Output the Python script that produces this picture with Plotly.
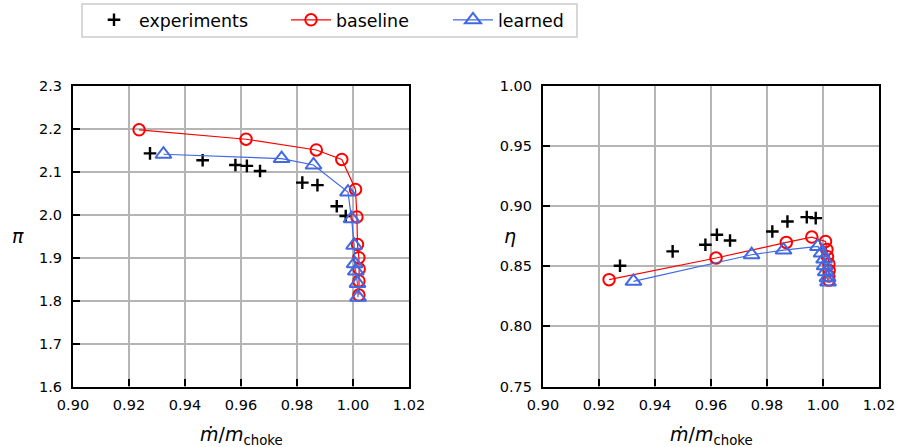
import plotly.graph_objects as go

# Operating points: corrected mass flow vs. pressure ratio and efficiency
x_exp = [0.9275, 0.9463, 0.9580, 0.9621, 0.9668, 0.9819, 0.9873, 0.9942, 0.9974]
pi_exp = [2.143, 2.127, 2.116, 2.114, 2.102, 2.075, 2.069, 2.020, 1.997]
eta_exp = [0.8505, 0.8624, 0.8679, 0.8762, 0.8715, 0.8790, 0.8873, 0.8909, 0.8901]

x_base = [0.9236, 0.9618, 0.9869, 0.9960, 1.0009, 1.0014, 1.0016, 1.0021, 1.0022, 1.0021, 1.0021]
pi_base = [2.198, 2.176, 2.151, 2.129, 2.059, 1.995, 1.931, 1.900, 1.874, 1.846, 1.813]
eta_base = [0.8389, 0.8569, 0.8699, 0.8743, 0.8707, 0.8640, 0.8580, 0.8520, 0.8465, 0.8420, 0.8385]

x_learn = [0.9323, 0.9745, 0.9859, 0.9982, 0.9995, 1.0004, 1.0006, 1.0010, 1.0016, 1.0018]
pi_learn = [2.141, 2.131, 2.116, 2.053, 1.991, 1.929, 1.886, 1.869, 1.840, 1.808]
eta_learn = [0.8375, 0.8596, 0.8635, 0.8665, 0.8610, 0.8560, 0.8505, 0.8455, 0.8405, 0.8370]

x_ticks = [0.90, 0.92, 0.94, 0.96, 0.98, 1.00, 1.02]
pi_ticks = [1.6, 1.7, 1.8, 1.9, 2.0, 2.1, 2.2, 2.3]
eta_ticks = [0.75, 0.80, 0.85, 0.90, 0.95, 1.00]

W, H = 897, 447
FONT = "DejaVu Sans"
RED = "#ff0000"
BLUE = "#4169e1"


def px_x(p):
    return p / W


def px_y(p):
    return 1 - p / H


fig = go.Figure()

series = [
    ("experiments", x_exp, pi_exp, eta_exp,
     dict(mode="markers", marker=dict(symbol="cross-thin", size=9, color="black",
                                      line=dict(color="black", width=2.4))), "legend"),
    ("baseline", x_base, pi_base, eta_base,
     dict(mode="lines+markers", line=dict(color=RED, width=1.2),
          marker=dict(symbol="circle-open", size=11.5, color=RED,
                      line=dict(color=RED, width=2))), "legend2"),
    ("learned", x_learn, pi_learn, eta_learn,
     dict(mode="lines+markers", line=dict(color=BLUE, width=1.2),
          marker=dict(symbol="triangle-up-open", size=14, color=BLUE,
                      line=dict(color=BLUE, width=2))), "legend3"),
]

for name, xs, pis, etas, style, leg in series:
    fig.add_trace(go.Scatter(x=xs, y=pis, name=name, xaxis="x", yaxis="y",
                             showlegend=True, legend=leg, cliponaxis=False, **style))
    fig.add_trace(go.Scatter(x=xs, y=etas, name=name, xaxis="x2", yaxis="y2",
                             showlegend=False, cliponaxis=False, **style))

axis_common = dict(
    showgrid=True, gridcolor="#b5b5b5", gridwidth=1.5,
    zeroline=False, showline=True, linecolor="black", linewidth=2.2, mirror=True,
    ticks="inside", ticklen=7, tickwidth=2, tickcolor="black",
    tickfont=dict(family=FONT, size=14.5, color="black"),
    automargin=False, fixedrange=True,
)

xdom1 = [px_x(73), px_x(409)]
xdom2 = [px_x(543), px_x(879)]
ydom = [px_y(386.5), px_y(86)]

fig.update_layout(
    width=W, height=H,
    margin=dict(l=0, r=0, t=0, b=0),
    paper_bgcolor="white", plot_bgcolor="white",
    font=dict(family=FONT, color="black"),
    xaxis=dict(domain=xdom1, range=[0.90, 1.02], tickvals=x_ticks, tickformat=".2f",
               anchor="y", ticklabelstandoff=4, **axis_common),
    yaxis=dict(domain=ydom, range=[1.6, 2.3], tickvals=pi_ticks, tickformat=".1f",
               anchor="x", ticklabelstandoff=6, **axis_common),
    xaxis2=dict(domain=xdom2, range=[0.90, 1.02], tickvals=x_ticks, tickformat=".2f",
                anchor="y2", ticklabelstandoff=4, **axis_common),
    yaxis2=dict(domain=ydom, range=[0.75, 1.00], tickvals=eta_ticks, tickformat=".2f",
                anchor="x2", ticklabelstandoff=6, **axis_common),
)

# one legend per entry so each item sits at its own spot inside a shared frame
leg_common = dict(orientation="h", yanchor="middle", xanchor="left", y=px_y(20),
                  bgcolor="rgba(0,0,0,0)", borderwidth=0, itemwidth=40,
                  font=dict(family=FONT, size=17.4, color="black"))
fig.update_layout(
    legend=dict(x=px_x(89), **leg_common),
    legend2=dict(x=px_x(286), **leg_common),
    legend3=dict(x=px_x(448), **leg_common),
)

fig.add_shape(type="rect", xref="paper", yref="paper",
              x0=px_x(82), x1=px_x(577), y0=px_y(37), y1=px_y(4),
              line=dict(color="#cccccc", width=1.5), fillcolor="white", layer="below")

xtitle = "<i>ṁ</i>/<i>m</i><sub>choke</sub>"
annots = [
    dict(x=px_x(241), y=px_y(435), text=xtitle),
    dict(x=px_x(711), y=px_y(435), text=xtitle),
    dict(x=px_x(18), y=px_y(236), text="<i>π</i>"),
    dict(x=px_x(510), y=px_y(236), text="<i>η</i>"),
]
for a in annots:
    fig.add_annotation(xref="paper", yref="paper", showarrow=False,
                       xanchor="center", yanchor="middle",
                       font=dict(family=FONT, size=19, color="black"), **a)

fig.write_html("out.html")
